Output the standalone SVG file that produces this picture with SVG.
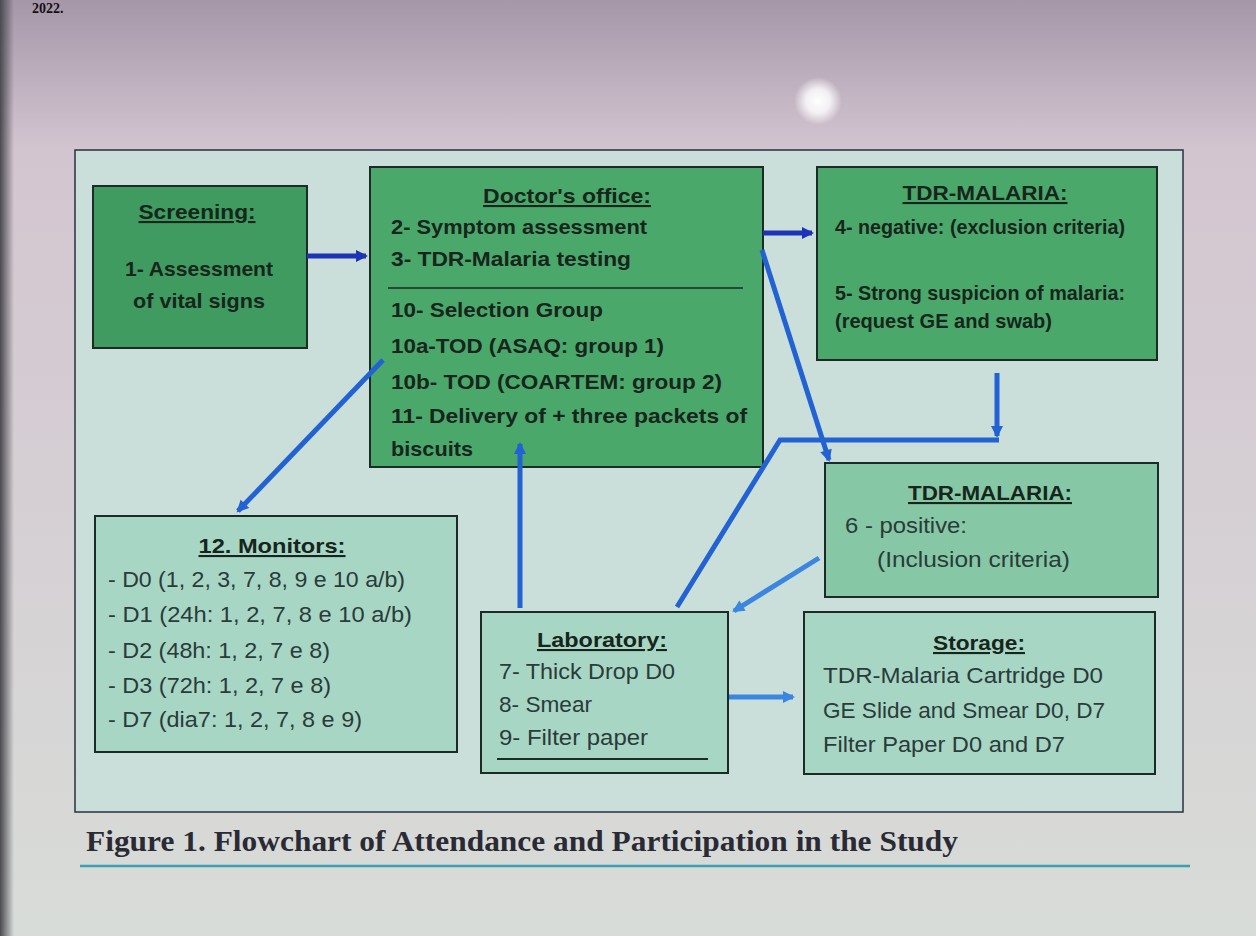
<svg xmlns="http://www.w3.org/2000/svg" width="1256" height="936" viewBox="0 0 1256 936">
<defs>
<style>
.t{font-family:"Liberation Sans",Arial,sans-serif;fill:#1c2a22;}
.dk{font-size:21px;font-weight:bold;fill:#17251c;}
.lt{font-size:22px;fill:#2a3b3a;}
.ttl{font-weight:bold;text-decoration:underline;}
.box{stroke:#1e2a26;stroke-width:2;}
.g1{fill:#3f9b5f;}
.g2{fill:#4ba86b;}
.g3{fill:#86c8a5;}
.g4{fill:#a8d6c5;}
.c-dark{fill:none;stroke:#1f33b8;stroke-width:5;}
.c-mid{fill:none;stroke:#2262d2;stroke-width:5;}
.c-light{fill:none;stroke:#3a86e0;stroke-width:5;}
</style>
<linearGradient id="bg" x1="0" y1="0" x2="0" y2="1">
<stop offset="0" stop-color="#a597a8"/>
<stop offset="0.16" stop-color="#d3c5d0"/>
<stop offset="1" stop-color="#d8dcd8"/>
</linearGradient>
<linearGradient id="edge" x1="0" y1="0" x2="1" y2="0">
<stop offset="0" stop-color="#4a4a50"/>
<stop offset="1" stop-color="#4a4a50" stop-opacity="0"/>
</linearGradient>
<radialGradient id="glow">
<stop offset="0" stop-color="#ffffff"/>
<stop offset="0.5" stop-color="#ffffff" stop-opacity="0.8"/>
<stop offset="1" stop-color="#ffffff" stop-opacity="0"/>
</radialGradient>
<marker id="ad" markerUnits="userSpaceOnUse" markerWidth="16" markerHeight="16" refX="12" refY="8" orient="auto"><path d="M2,2 L14,8 L2,14 Z" fill="#1f33b8"/></marker>
<marker id="am" markerUnits="userSpaceOnUse" markerWidth="16" markerHeight="16" refX="12" refY="8" orient="auto"><path d="M2,2 L14,8 L2,14 Z" fill="#2262d2"/></marker>
<marker id="al" markerUnits="userSpaceOnUse" markerWidth="16" markerHeight="16" refX="12" refY="8" orient="auto"><path d="M2,2 L14,8 L2,14 Z" fill="#3a86e0"/></marker>
</defs>

<rect width="1256" height="936" fill="url(#bg)"/>
<rect x="0" y="0" width="14" height="936" fill="url(#edge)"/>
<circle cx="818" cy="101" r="24" fill="url(#glow)"/>
<text x="32" y="13" font-family="Liberation Serif,serif" font-weight="bold" font-size="14" fill="#111">2022.</text>

<rect x="75" y="150" width="1108" height="662" fill="#cbdfda" stroke="#2a3040" stroke-width="1.5"/>

<g id="screening">
<rect class="box g1" x="93" y="186" width="214" height="162"/>
<text class="t dk ttl" x="197" y="219" text-anchor="middle" textLength="117" lengthAdjust="spacingAndGlyphs">Screening:</text>
<text class="t dk" x="125" y="276" textLength="148" lengthAdjust="spacingAndGlyphs">1- Assessment</text>
<text class="t dk" x="133" y="308" textLength="132" lengthAdjust="spacingAndGlyphs">of vital signs</text>
</g>

<g id="doctor">
<rect class="box g2" x="370" y="167" width="393" height="300"/>
<text class="t dk ttl" x="567" y="203" text-anchor="middle" textLength="168" lengthAdjust="spacingAndGlyphs">Doctor's office:</text>
<text class="t dk" x="391" y="234" textLength="256" lengthAdjust="spacingAndGlyphs">2- Symptom assessment</text>
<text class="t dk" x="391" y="266" textLength="240" lengthAdjust="spacingAndGlyphs">3- TDR-Malaria testing</text>
<line x1="388" y1="288" x2="743" y2="288" stroke="#1e2a26" stroke-width="1.5"/>
<text class="t dk" x="391" y="317" textLength="212" lengthAdjust="spacingAndGlyphs">10- Selection Group</text>
<text class="t dk" x="391" y="353" textLength="273" lengthAdjust="spacingAndGlyphs">10a-TOD (ASAQ: group 1)</text>
<text class="t dk" x="391" y="389" textLength="331" lengthAdjust="spacingAndGlyphs">10b- TOD (COARTEM: group 2)</text>
<text class="t dk" x="391" y="423" textLength="356" lengthAdjust="spacingAndGlyphs">11- Delivery of + three packets of</text>
<text class="t dk" x="391" y="456" textLength="82" lengthAdjust="spacingAndGlyphs">biscuits</text>
</g>

<g id="tdr-negative">
<rect class="box g2" x="817" y="167" width="340" height="193"/>
<text class="t dk ttl" x="985" y="200" text-anchor="middle" font-size="19" textLength="165" lengthAdjust="spacingAndGlyphs">TDR-MALARIA:</text>
<text class="t dk" x="835" y="234" font-size="18" textLength="290" lengthAdjust="spacingAndGlyphs">4- negative: (exclusion criteria)</text>
<text class="t dk" x="835" y="300" font-size="18" textLength="290" lengthAdjust="spacingAndGlyphs">5- Strong suspicion of malaria:</text>
<text class="t dk" x="835" y="328" font-size="18" textLength="217" lengthAdjust="spacingAndGlyphs">(request GE and swab)</text>
</g>

<g id="tdr-positive">
<rect class="box g3" x="825" y="463" width="333" height="134"/>
<text class="t dk ttl" x="990" y="500" text-anchor="middle" font-size="21" textLength="164" lengthAdjust="spacingAndGlyphs">TDR-MALARIA:</text>
<text class="t lt" x="845" y="533" textLength="122" lengthAdjust="spacingAndGlyphs">6 - positive:</text>
<text class="t lt" x="877" y="567" textLength="193" lengthAdjust="spacingAndGlyphs">(Inclusion criteria)</text>
</g>

<g id="monitors">
<rect class="box g4" x="95" y="516" width="362" height="236"/>
<text class="t dk ttl" x="272" y="553" text-anchor="middle" font-size="21" textLength="147" lengthAdjust="spacingAndGlyphs">12. Monitors:</text>
<text class="t lt" x="108" y="587" textLength="297" lengthAdjust="spacingAndGlyphs">- D0 (1, 2, 3, 7, 8, 9 e 10 a/b)</text>
<text class="t lt" x="108" y="622" textLength="304" lengthAdjust="spacingAndGlyphs">- D1 (24h: 1, 2, 7, 8 e 10 a/b)</text>
<text class="t lt" x="108" y="658" textLength="222" lengthAdjust="spacingAndGlyphs">- D2 (48h: 1, 2, 7 e 8)</text>
<text class="t lt" x="108" y="693" textLength="223" lengthAdjust="spacingAndGlyphs">- D3 (72h: 1, 2, 7 e 8)</text>
<text class="t lt" x="108" y="727" textLength="254" lengthAdjust="spacingAndGlyphs">- D7 (dia7: 1, 2, 7, 8 e 9)</text>
</g>

<g id="laboratory">
<rect class="box g4" x="481" y="612" width="247" height="161"/>
<text class="t dk ttl" x="602" y="647" text-anchor="middle" font-size="21" textLength="130" lengthAdjust="spacingAndGlyphs">Laboratory:</text>
<text class="t lt" x="499" y="679" textLength="176" lengthAdjust="spacingAndGlyphs">7- Thick Drop D0</text>
<text class="t lt" x="499" y="712" textLength="93" lengthAdjust="spacingAndGlyphs">8- Smear</text>
<text class="t lt" x="499" y="745" textLength="149" lengthAdjust="spacingAndGlyphs">9- Filter paper</text>
<line x1="497" y1="759" x2="708" y2="759" stroke="#1e2a26" stroke-width="2"/>
</g>

<g id="storage">
<rect class="box g4" x="804" y="612" width="351" height="162"/>
<text class="t dk ttl" x="979" y="650" text-anchor="middle" font-size="21" textLength="92" lengthAdjust="spacingAndGlyphs">Storage:</text>
<text class="t lt" x="823" y="683" textLength="280" lengthAdjust="spacingAndGlyphs">TDR-Malaria Cartridge D0</text>
<text class="t lt" x="823" y="718" textLength="282" lengthAdjust="spacingAndGlyphs">GE Slide and Smear D0, D7</text>
<text class="t lt" x="823" y="752" textLength="242" lengthAdjust="spacingAndGlyphs">Filter Paper D0 and D7</text>
</g>

<g id="connectors">
<path class="c-dark" d="M307,256 H366" marker-end="url(#ad)"/>
<path class="c-dark" d="M763,233 H812" marker-end="url(#ad)"/>
<path class="c-mid" d="M762,250 L829,460" marker-end="url(#am)"/>
<path class="c-mid" d="M997,373 V436" marker-end="url(#am)"/>
<path class="c-mid" d="M999,440 H780 L677,607"/>
<path class="c-light" d="M819,558 L734,611" marker-end="url(#al)"/>
<path class="c-mid" d="M520,608 V444" marker-end="url(#am)"/>
<path class="c-mid" d="M383,360 L238,511" marker-end="url(#am)"/>
<path class="c-light" d="M729,697 H793" marker-end="url(#al)"/>
</g>

<text x="86" y="851" font-family="Liberation Serif,serif" font-weight="bold" font-size="29" fill="#2a2a35" textLength="872" lengthAdjust="spacingAndGlyphs">Figure 1. Flowchart of Attendance and Participation in the Study</text>
<line x1="80" y1="866" x2="1190" y2="866" stroke="#3aa0b4" stroke-width="2.5"/>
</svg>
